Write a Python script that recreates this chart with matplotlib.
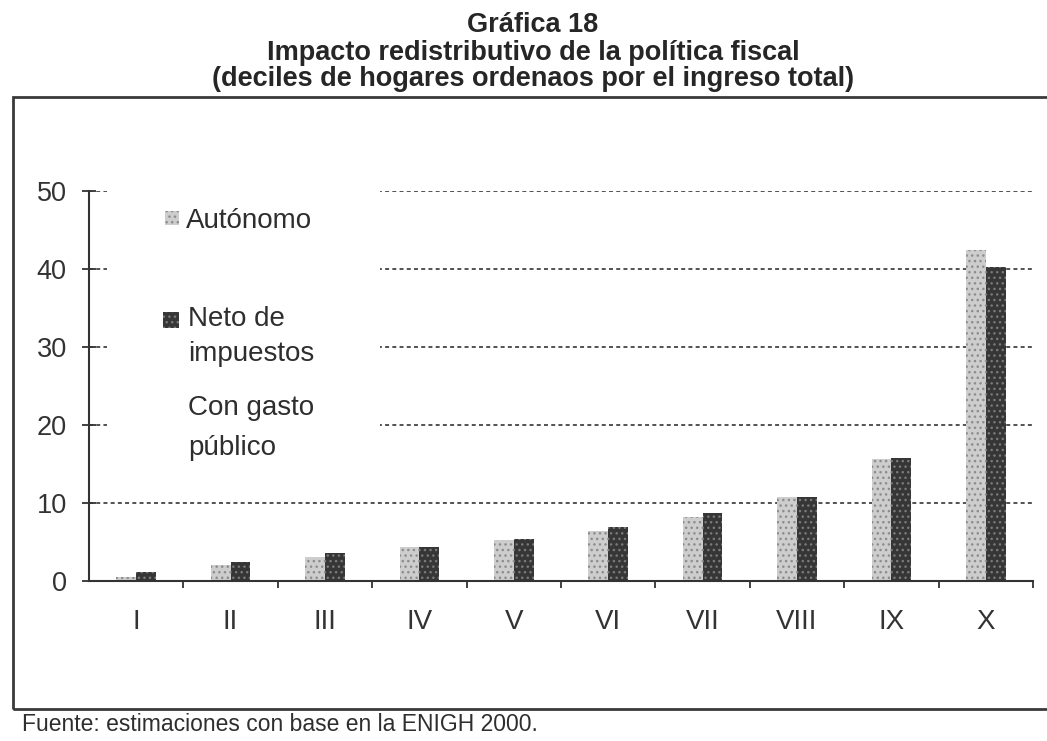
import numpy as np
import matplotlib
matplotlib.use('Agg')
import matplotlib.pyplot as plt
from matplotlib.patches import Rectangle

# datos (porcentaje del ingreso por decil)
deciles = ['I', 'II', 'III', 'IV', 'V', 'VI', 'VII', 'VIII', 'IX', 'X']
autonomo = [0.5, 2.0, 3.1, 4.4, 5.2, 6.4, 8.2, 10.8, 15.6, 42.5]
neto_impuestos = [1.2, 2.4, 3.6, 4.4, 5.4, 6.9, 8.7, 10.8, 15.8, 40.2]
y_ticks = [0, 10, 20, 30, 40, 50]
series_labels = ['Autónomo', 'Neto de\nimpuestos', 'Con gasto\npúblico']
title_lines = ['Gráfica 18',
               'Impacto redistributivo de la política fiscal',
               '(deciles de hogares ordenaos por el ingreso total)']
fuente = 'Fuente: estimaciones con base en la ENIGH 2000.'

plt.rcParams['font.family'] = ['Liberation Sans', 'DejaVu Sans']

W, H = 1047, 741
fig = plt.figure(figsize=(W / 100, H / 100), dpi=100)
fig.patch.set_facecolor('white')

# ejes: x de -0.5 a 9.5, y de 0 a 50
ax_l, ax_r, ax_b, ax_t = 89, 1033, 581, 191
ax = fig.add_axes([ax_l / W, 1 - ax_b / H, (ax_r - ax_l) / W, (ax_b - ax_t) / H])
ax.set_xlim(-0.5, 9.5)
ax.set_ylim(0, 50)
ax.patch.set_alpha(0)

def px_x(px):
    return -0.5 + (px - ax_l) / (ax_r - ax_l) * 10

def px_y(py):
    return (ax_b - py) / (ax_b - ax_t) * 50

x = np.arange(len(deciles))
w = 0.21  # 3 series, la tercera sin barra visible

# lineas de guia punteadas
for yv in y_ticks[1:]:
    ax.axhline(yv, color='#444444', lw=1.3, ls=(0, (2.2, 1.8)), zorder=0.5)

# fondo blanco de la leyenda tapa las guias
ax.add_patch(Rectangle((px_x(107), px_y(470)), px_x(380) - px_x(107), 60,
                       facecolor='white', edgecolor='none', zorder=1))

ax.bar(x - w, autonomo, w, align='edge', facecolor='#cdcdcd', edgecolor='#8c8c8c',
       hatch='...', lw=0, zorder=2)
ax.bar(x, neto_impuestos, w, align='edge', facecolor='#363636', edgecolor='#7a7a7a',
       hatch='...', lw=0, zorder=2)

# leyenda
txt_kw = dict(fontsize=20, color='#2e2e2e', ha='left', va='baseline', zorder=3)
ax.add_patch(Rectangle((px_x(165), px_y(225)), px_x(179) - px_x(165), px_y(211) - px_y(225),
                       facecolor='#cdcdcd', edgecolor='#8c8c8c', hatch='...', lw=0, zorder=3))
ax.add_patch(Rectangle((px_x(163), px_y(328)), px_x(179) - px_x(163), px_y(312) - px_y(328),
                       facecolor='#363636', edgecolor='#7a7a7a', hatch='...', lw=0, zorder=3))
ax.text(px_x(186), px_y(228), series_labels[0], **txt_kw)
l1, l2 = series_labels[1].split('\n')
ax.text(px_x(188), px_y(326), l1, **txt_kw)
ax.text(px_x(188), px_y(361), l2, **txt_kw)
l1, l2 = series_labels[2].split('\n')
ax.text(px_x(188), px_y(415), l1, **txt_kw)
ax.text(px_x(188), px_y(455), l2, **txt_kw)

# ejes
for s in ['top', 'right']:
    ax.spines[s].set_visible(False)
for s in ['left', 'bottom']:
    ax.spines[s].set_color('#333333')
    ax.spines[s].set_linewidth(1.5)

ax.set_yticks(y_ticks)
ax.tick_params(axis='y', direction='inout', length=10, width=1.3, color='#333333',
               labelsize=19.5, labelcolor='#333333', pad=11)
ax.set_xticks(x)
ax.set_xticklabels(deciles)
ax.set_xticks(np.arange(0.5, 10, 1), minor=True)
ax.tick_params(axis='x', which='major', length=0, labelsize=20, labelcolor='#333333', pad=20)
ax.tick_params(axis='x', which='minor', direction='out', length=5, width=1.3, color='#333333')

# titulo
for txt, yb in zip(title_lines, [32, 60, 86]):
    fig.text(533 / W, 1 - yb / H, txt, ha='center', va='baseline', fontsize=19.5,
             fontweight='bold', color='#262626')

# marco
fig.add_artist(Rectangle((13 / W, 1 - 709 / H), (1070 - 13) / W, (709 - 97) / H,
                         transform=fig.transFigure, fill=False, edgecolor='#3a3a3a', lw=2))

fig.text(22 / W, 1 - 731 / H, fuente, ha='left', va='baseline', fontsize=16.5, color='#2e2e2e')

fig.savefig('out.png', dpi=100)
